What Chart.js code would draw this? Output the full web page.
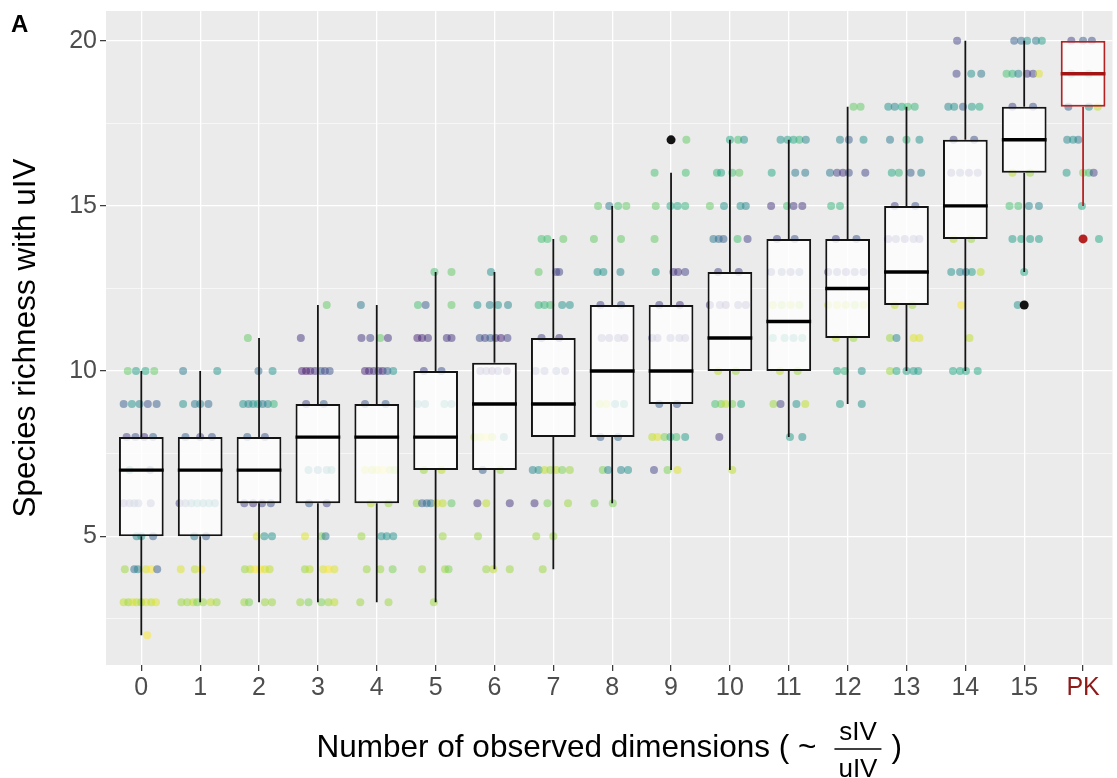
<!DOCTYPE html>
<html>
<head>
<meta charset="utf-8">
<script src="https://cdn.jsdelivr.net/npm/chart.js@4.4.1/dist/chart.umd.min.js"></script>
<style>
  html, body { margin: 0; padding: 0; background: #fff; }
  #wrap { width: 1117px; height: 778px; }
</style>
</head>
<body>
<div id="wrap"><canvas id="c" width="1117" height="778"></canvas></div>
<script>
// ---------------- DATA ----------------
const categories   = ['0','1','2','3','4','5','6','7','8','9','10','11','12','13','14','15','PK'];
const whiskerLow   = [2, 3, 3, 3, 3, 3, 4, 4, 6, 7, 7, 8, 9, 10, 10, 13, 15];
const boxQ1        = [5, 5, 6, 6, 6, 7, 7, 8, 8, 9, 10, 10, 11, 12, 14, 16, 18];
const boxMedian    = [7, 7, 7, 8, 8, 8, 9, 9, 10, 10, 11, 11.5, 12.5, 13, 15, 17, 19];
const boxQ3        = [8, 8, 8, 9, 9, 10, 10.25, 11, 12, 12, 13, 14, 14, 15, 17, 18, 20];
const whiskerHigh  = [10, 10, 11, 12, 12, 13, 13, 14, 15, 16, 17, 17, 18, 18, 20, 20, 20];
const outlierCat   = [9, 15, 16];
const outlierValue = [17, 12, 14];

const yTickValues = [2.5, 5, 7.5, 10, 12.5, 15, 17.5, 20];
const yTickLabels = ['', '5', '', '10', '', '15', '', '20'];

// jittered observations per category: [richness, horizontal jitter (category units), colour value 0..1 (viridis)]
const pts_0 = [[10,-0.23,0.75],[10,-0.09,0.55],[10,0.07,0.6],[10,0.22,0.75],
 [9,-0.30,0.3],[9,-0.16,0.5],[9,-0.03,0.45],[9,0.11,0.25],[9,0.26,0.3],
 [8,-0.25,0.2],[8,-0.1,0.25],[8,0.05,0.15],[8,0.2,0.3],[7,-0.2,0.5],[7,0.15,0.3],
 [6,-0.3,0.15],[6,-0.2,0.2],[6,-0.12,0.3],[6,-0.05,0.25],[6,0.16,0.2],
 [5,-0.08,0.45],[5,0.0,0.5],[5,0.2,0.3],
 [4,-0.28,0.85],[4,-0.12,0.35],[4,-0.06,0.45],[4,0.08,0.95],[4,0.17,1.0],[4,0.27,0.3],
 [3,-0.3,0.9],[3,-0.22,0.85],[3,-0.15,0.95],[3,-0.08,0.9],[3,0,0.85],[3,0.08,0.95],[3,0.17,0.9],[3,0.25,0.95],
 [2,0.1,1.0]];
const pts_1 = [[10,-0.29,0.4],[10,0.29,0.5],
 [9,-0.29,0.5],[9,-0.09,0.4],[9,0,0.45],[9,0.14,0.35],
 [8,-0.25,0.3],[8,0,0.2],[8,0.2,0.25],
 [6,-0.35,0.2],[6,-0.25,0.3],[6,-0.15,0.4],[6,-0.05,0.5],[6,0.05,0.45],[6,0.15,0.5],[6,0.25,0.4],
 [5,-0.1,0.4],[5,0.1,0.3],
 [4,-0.33,0.95],[4,-0.09,0.9],[4,0.02,1.0],
 [3,-0.32,0.85],[3,-0.22,0.85],[3,-0.12,0.9],[3,-0.05,0.8],[3,0.05,0.85],[3,0.18,0.9],[3,0.28,0.85]];
const pts_2 = [[11,-0.19,0.75],
 [10,-0.01,0.35],[10,0.23,0.5],
 [9,-0.27,0.5],[9,-0.18,0.45],[9,-0.1,0.5],[9,-0.02,0.55],[9,0.06,0.4],[9,0.15,0.45],[9,0.25,0.65],
 [8,-0.2,0.3],[8,0.1,0.25],
 [6,-0.25,0.2],[6,-0.1,0.15],[6,0.05,0.2],[6,0.2,0.25],
 [5,-0.04,0.95],[5,0.09,0.5],[5,0.22,0.5],
 [4,-0.24,0.85],[4,-0.15,0.9],[4,-0.06,1.0],[4,0.02,1.0],[4,0.1,0.95],[4,0.18,0.9],
 [3,-0.25,0.85],[3,-0.17,0.8],[3,0.1,0.85],[3,0.22,0.85]];
const pts_3 = [[12,0.15,0.75],[11,-0.29,0.15],
 [10,-0.27,0.1],[10,-0.2,0.05],[10,-0.13,0.1],[10,-0.05,0.15],[10,0.05,0.3],[10,0.12,0.2],[10,0.2,0.25],
 [9,-0.2,0.2],[9,0.1,0.3],
 [7,-0.16,0.5],[7,0,0.4],[7,0.15,0.45],[7,0.23,0.5],
 [6,-0.15,0.3],[6,0.15,0.2],
 [5,-0.22,0.95],[5,0.06,0.8],[5,0.13,0.4],
 [4,-0.22,0.85],[4,-0.14,0.9],[4,0.09,0.95],[4,0.18,1.0],[4,0.28,0.95],
 [3,-0.3,0.85],[3,-0.16,0.8],[3,0.06,0.8],[3,0.18,0.85],[3,0.28,0.9]];
const pts_4 = [[12,-0.27,0.4],
 [11,-0.26,0.15],[11,-0.11,0.2],[11,0.06,0.75],[11,0.19,0.15],
 [10,-0.2,0.1],[10,-0.13,0.1],[10,-0.05,0.15],[10,0.03,0.2],[10,0.1,0.1],[10,0.18,0.3],[10,0.28,0.5],
 [9,-0.2,0.25],[9,0.15,0.3],
 [7,-0.2,0.95],[7,-0.08,0.9],[7,0,0.95],[7,0.1,1.0],[7,0.22,0.9],[7,0.3,0.85],
 [6,-0.1,0.9],[6,0.2,0.85],
 [5,-0.26,0.85],[5,0.08,0.5],[5,0.17,0.5],[5,0.28,0.5],
 [4,-0.17,0.85],[4,0.06,0.85],[4,0.27,0.8],
 [3,-0.28,0.85],[3,0.2,0.85]];
const pts_5 = [[13,-0.02,0.7],[13,0.27,0.75],
 [12,-0.3,0.7],[12,-0.17,0.3],[12,0.27,0.75],
 [11,-0.31,0.1],[11,-0.23,0.1],[11,-0.13,0.15],[11,0.19,0.15],[11,0.27,0.15],
 [10,-0.2,0.2],[10,0.1,0.25],
 [9,-0.3,0.5],[9,-0.18,0.45],[9,0.15,0.55],[9,0.27,0.5],
 [7,-0.2,0.85],[7,0.1,0.9],
 [6,-0.32,0.85],[6,-0.23,0.3],[6,-0.15,0.35],[6,-0.08,0.4],[6,0.02,0.95],[6,0.12,0.9],[6,0.27,0.75],
 [5,0.12,0.85],
 [4,-0.23,0.85],[4,0.16,0.85],[4,0.22,0.8],
 [3,-0.03,0.85]];
const pts_6 = [[13,-0.06,0.5],
 [12,-0.29,0.5],[12,-0.08,0.45],[12,0.06,0.5],[12,0.23,0.45],
 [11,-0.25,0.25],[11,-0.16,0.2],[11,-0.07,0.3],[11,0.02,0.15],[11,0.11,0.1],[11,0.22,0.2],
 [10,-0.24,0.15],[10,-0.14,0.2],[10,-0.04,0.1],[10,0.06,0.2],[10,0.21,0.1],
 [8,-0.34,0.9],[8,-0.24,0.95],[8,-0.14,1.0],[8,-0.04,0.9],[8,0.16,0.5],
 [7,-0.2,0.3],[7,0.1,0.85],
 [6,-0.29,0.15],[6,-0.14,0.9],[6,0.26,0.15],
 [5,-0.28,0.85],
 [4,-0.14,0.85],[4,-0.02,0.9],[4,0.26,0.85]];
const pts_7 = [[14,-0.2,0.7],[14,-0.1,0.7],[14,0.17,0.75],
 [13,-0.25,0.75],[13,0.05,0.2],[13,0.1,0.2],
 [12,-0.25,0.65],[12,-0.15,0.65],[12,-0.05,0.7],[12,0.15,0.5],[12,0.28,0.5],
 [11,-0.2,0.2],[11,0.1,0.15],
 [10,-0.3,0.2],[10,-0.15,0.2],[10,0.05,0.25],[10,0.2,0.15],
 [7,-0.35,0.45],[7,-0.25,0.5],[7,-0.15,0.9],[7,-0.05,0.85],[7,0.05,0.9],[7,0.15,0.8],[7,0.28,0.85],
 [6,-0.32,0.15],[6,-0.1,0.8],[6,0.25,0.85],
 [5,-0.29,0.85],[5,0,0.85],
 [4,-0.18,0.85]];
const pts_8 = [[15,-0.24,0.75],[15,-0.05,0.4],[15,0.1,0.7],[15,0.24,0.75],
 [14,-0.31,0.75],[14,0.15,0.75],
 [13,-0.25,0.5],[13,-0.15,0.5],[13,0.14,0.45],
 [12,-0.2,0.2],[12,0.15,0.25],
 [11,-0.18,0.2],[11,-0.05,0.15],[11,0.1,0.2],[11,0.21,0.1],
 [9,-0.21,0.9],[9,-0.1,0.95],[9,0.05,0.5],[9,0.2,0.55],
 [8,-0.2,0.3],[8,0.1,0.35],
 [7,-0.16,0.8],[7,-0.07,0.45],[7,0.15,0.45],[7,0.27,0.5],
 [6,-0.3,0.8],[6,0.01,0.8]];
const pts_9 = [[17,0.26,0.75],
 [16,-0.28,0.7],[16,0.25,0.7],
 [15,-0.26,0.75],[15,-0.01,0.6],[15,0.11,0.6],[15,0.24,0.65],
 [14,-0.28,0.75],
 [13,-0.26,0.55],[13,0.04,0.15],[13,0.12,0.15],[13,0.24,0.2],
 [12,-0.2,0.2],[12,0.15,0.15],
 [11,-0.32,0.2],[11,-0.23,0.15],[11,-0.01,0.2],[11,0.14,0.2],[11,0.24,0.15],
 [9,-0.2,0.3],[9,0.1,0.25],
 [8,-0.32,0.9],[8,-0.23,0.95],[8,-0.11,0.8],[8,-0.01,0.6],[8,0.09,0.7],[8,0.24,0.55],
 [7,-0.29,0.2],[7,-0.06,0.8],[7,0.11,0.95]];
const pts_10 = [[17,0.0,0.6],[17,0.14,0.7],[17,0.24,0.5],
 [16,-0.22,0.65],[16,-0.15,0.6],[16,0.04,0.7],[16,0.16,0.75],
 [15,-0.34,0.75],[15,-0.1,0.5],[15,0.18,0.5],[15,0.27,0.45],
 [14,-0.28,0.4],[14,-0.19,0.35],[14,-0.11,0.3],[14,0.13,0.7],[14,0.3,0.2],
 [13,-0.2,0.2],[13,0.15,0.2],
 [12,-0.34,0.15],[12,-0.17,0.2],[12,-0.07,0.1],[12,0.14,0.2],[12,0.27,0.15],
 [10,-0.2,0.9],[10,0.1,0.85],
 [9,-0.25,0.7],[9,-0.15,0.8],[9,-0.07,0.9],[9,0.04,0.8],[9,0.19,0.6],
 [8,-0.18,0.15],
 [7,0.04,0.9]];
const pts_11 = [[17,-0.14,0.5],[17,-0.02,0.55],[17,0.08,0.6],[17,0.18,0.65],[17,0.29,0.45],
 [16,-0.29,0.6],[16,0.11,0.4],[16,0.28,0.4],
 [15,-0.3,0.15],[15,-0.03,0.7],[15,0.08,0.15],[15,0.23,0.15],
 [14,-0.2,0.2],[14,0.1,0.25],
 [13,-0.3,0.2],[13,-0.12,0.3],[13,0.03,0.2],[13,0.18,0.25],
 [12,-0.27,0.9],[12,-0.12,0.85],[12,0.03,0.9],[12,0.18,0.85],
 [11,-0.27,0.6],[11,-0.07,0.55],[11,0.08,0.5],[11,0.23,0.6],
 [10,-0.15,0.9],[10,0.15,0.85],
 [9,-0.26,0.85],[9,-0.14,0.2],[9,0.13,0.5],[9,0.28,0.9],
 [8,0.02,0.55],[8,0.23,0.5]];
const pts_12 = [[18,0.1,0.75],[18,0.22,0.75],
 [17,-0.13,0.45],[17,0.02,0.3],[17,0.27,0.5],
 [16,-0.3,0.4],[16,-0.18,0.2],[16,-0.08,0.15],[16,0.02,0.25],[16,0.3,0.2],
 [15,-0.28,0.65],[15,-0.13,0.65],
 [14,-0.2,0.2],[14,0.15,0.25],
 [13,-0.33,0.15],[13,-0.18,0.2],[13,-0.03,0.15],[13,0.12,0.2],[13,0.27,0.15],
 [12,-0.33,0.9],[12,-0.18,0.95],[12,-0.03,0.9],[12,0.12,0.85],[12,0.27,0.9],
 [11,-0.2,0.9],[11,0.1,0.85],
 [10,-0.18,0.6],[10,-0.05,0.65],[10,0.24,0.5],
 [9,-0.13,0.55],[9,0.24,0.5]];
const pts_13 = [[18,-0.31,0.5],[18,-0.2,0.45],[18,-0.08,0.6],[18,0.02,0.7],[18,0.14,0.65],
 [17,-0.28,0.4],[17,0.0,0.65],[17,0.22,0.5],
 [16,-0.25,0.6],[16,-0.13,0.65],[16,0.07,0.3],[16,0.25,0.45],
 [15,-0.2,0.2],[15,0.15,0.25],
 [14,-0.31,0.15],[14,-0.18,0.2],[14,-0.03,0.15],[14,0.12,0.2],[14,0.22,0.15],
 [12,-0.2,0.9],[12,0.1,0.85],
 [11,-0.28,0.85],[11,-0.17,0.45],[11,0.12,0.95],[11,0.22,0.95],
 [10,-0.28,0.85],[10,-0.17,0.6],[10,0.0,0.55],[10,0.12,0.55],[10,0.2,0.55]];
const pts_14 = [[20,-0.14,0.2],
 [19,-0.15,0.2],[19,0.1,0.5],[19,0.27,0.4],
 [18,-0.29,0.45],[18,-0.19,0.5],[18,-0.04,0.3],[18,0.11,0.55],[18,0.24,0.6],
 [17,-0.2,0.2],[17,0.15,0.25],
 [16,-0.24,0.15],[16,-0.09,0.2],[16,0.06,0.15],[16,0.21,0.2],
 [14,-0.2,0.9],[14,0.1,0.85],
 [13,-0.24,0.5],[13,-0.09,0.45],[13,0.01,0.4],[13,0.11,0.55],[13,0.26,0.9],
 [12,-0.07,1.0],
 [11,0.07,0.9],
 [10,-0.21,0.6],[10,-0.09,0.6],[10,0.01,0.6],[10,0.21,0.6]];
const pts_15 = [[20,-0.17,0.3],[20,-0.05,0.35],[20,0.05,0.5],[20,0.2,0.4],[20,0.3,0.55],
 [19,-0.3,0.7],[19,-0.2,0.65],[19,-0.1,0.45],[19,0.05,0.15],[19,0.15,0.2],[19,0.25,0.95],
 [18,-0.2,0.2],[18,0.15,0.25],
 [16,-0.2,0.9],[16,0.1,0.85],
 [15,-0.25,0.7],[15,-0.1,0.7],[15,0.08,0.45],[15,0.25,0.45],
 [14,-0.2,0.55],[14,-0.05,0.6],[14,0.1,0.55],[14,0.25,0.55],
 [13,0.0,0.6],
 [12,-0.11,0.5]];
const pts_PK = [[20,-0.2,0.2],[20,0.0,0.3],[20,0.15,0.25],
 [19,-0.2,0.5],[19,0.1,0.6],
 [18,-0.25,0.3],[18,0.1,0.5],[18,0.25,0.9],
 [17,-0.27,0.45],[17,-0.17,0.5],[17,-0.08,0.4],
 [16,-0.28,0.55],[16,0.0,0.8],[16,0.1,0.7],[16,0.18,0.2],
 [15,-0.02,0.6],
 [14,0.27,0.6]];
const jitterByCategory = [pts_0, pts_1, pts_2, pts_3, pts_4, pts_5, pts_6, pts_7, pts_8,
  pts_9, pts_10, pts_11, pts_12, pts_13, pts_14, pts_15, pts_PK];

// ---------------- STYLE ----------------
const BOX_WIDTH = 0.76;
const PK_RED = '#B42222';
const PK_LABEL = '#8E1A1A';
const FONT = '"Liberation Sans", Arial, Helvetica, sans-serif';
const VIRIDIS = ['#440154','#482475','#414487','#355F8D','#2A788E','#21918C','#22A884','#44BF70','#7AD151','#BDDF26','#FDE725'];

function viridis(t, a) {
  const p = Math.max(0, Math.min(1, t)) * (VIRIDIS.length - 1);
  const i = Math.min(Math.floor(p), VIRIDIS.length - 2), f = p - i;
  const h = s => [parseInt(s.slice(1,3),16), parseInt(s.slice(3,5),16), parseInt(s.slice(5,7),16)];
  const c0 = h(VIRIDIS[i]), c1 = h(VIRIDIS[i+1]);
  const c = c0.map((v, k) => Math.round(v + (c1[k] - v) * f));
  return `rgba(${c[0]},${c[1]},${c[2]},${a})`;
}

// ---------------- BUILD DATASETS ----------------
const jitterData = [], jitterColors = [];
jitterByCategory.forEach((arr, ci) => {
  arr.forEach(([y, dx, c]) => { jitterData.push({x: ci + dx, y: y}); jitterColors.push(viridis(c, 0.5)); });
});

const boxData = categories.map((c, i) => ({x: i, y: [boxQ1[i], boxQ3[i]]}));
const boxBorders = categories.map(c => c === 'PK' ? PK_RED : '#141414');

const whiskerData = [];
categories.forEach((c, i) => {
  whiskerData.push({x: i, y: whiskerLow[i]}, {x: i, y: boxQ1[i]}, {x: i, y: null});
  whiskerData.push({x: i, y: boxQ3[i]}, {x: i, y: whiskerHigh[i]}, {x: i, y: null});
});
const medianData = [];
categories.forEach((c, i) => {
  medianData.push({x: i - BOX_WIDTH / 2, y: boxMedian[i]}, {x: i + BOX_WIDTH / 2, y: boxMedian[i]}, {x: i, y: null});
});
const outlierData = outlierCat.map((c, k) => ({x: c, y: outlierValue[k]}));
const outlierColors = outlierCat.map(c => categories[c] === 'PK' ? PK_RED : '#141414');

const isPK = x => Math.round(x) === categories.indexOf('PK');

// ---------------- PLUGINS ----------------
const panelBackground = {
  id: 'panelBackground',
  beforeDraw(chart) {
    const {ctx, chartArea: a} = chart;
    ctx.save();
    ctx.fillStyle = '#EBEBEB';
    ctx.fillRect(a.left, a.top, a.right - a.left, a.bottom - a.top);
    ctx.restore();
  }
};

const annotations = {
  id: 'annotations',
  afterDraw(chart) {
    const {ctx, chartArea: a} = chart;
    ctx.save();
    ctx.fillStyle = '#000';
    ctx.textBaseline = 'alphabetic';
    ctx.textAlign = 'left';
    ctx.font = 'bold 24px ' + FONT;
    ctx.fillText('A', 11, 32);

    // x axis title with fraction sIV / uIV
    const mainFont = '31.5px ' + FONT, fracFont = '26px ' + FONT;
    const mainText = 'Number of observed dimensions ( ~';
    ctx.font = mainFont;
    const wMain = ctx.measureText(mainText).width;
    const wClose = ctx.measureText(')').width;
    ctx.font = fracFont;
    const wNum = ctx.measureText('sIV').width, wDen = ctx.measureText('uIV').width;
    const fracW = Math.max(wNum, wDen) + 8;
    const gap1 = 18, gap2 = 10;
    const total = wMain + gap1 + fracW + gap2 + wClose;
    const cx = (a.left + a.right) / 2;
    const x0 = cx - total / 2;
    const base = a.bottom + 92;      // main text baseline
    const barY = base - 8;           // fraction bar (math axis)
    ctx.font = mainFont;
    ctx.fillText(mainText, x0, base);
    const fx = x0 + wMain + gap1;
    ctx.fillText(')', fx + fracW + gap2, base);
    ctx.strokeStyle = '#000';
    ctx.lineWidth = 1.5;
    ctx.beginPath();
    ctx.moveTo(fx, barY);
    ctx.lineTo(fx + fracW, barY);
    ctx.stroke();
    ctx.font = fracFont;
    ctx.textAlign = 'center';
    ctx.fillText('sIV', fx + fracW / 2, barY - 9);
    ctx.fillText('uIV', fx + fracW / 2, barY + 28);
    ctx.restore();
  }
};

// ---------------- CHART ----------------
new Chart(document.getElementById('c'), {
  type: 'bar',
  data: {
    datasets: [
      {
        type: 'scatter', label: 'observations', data: jitterData,
        backgroundColor: jitterColors, pointBackgroundColor: jitterColors,
        pointRadius: 4, pointBorderWidth: 0, borderWidth: 0, order: 5
      },
      {
        type: 'bar', label: 'IQR', data: boxData,
        backgroundColor: 'rgba(255,255,255,0.78)', borderColor: boxBorders,
        borderWidth: 2, borderSkipped: false, grouped: false,
        barPercentage: BOX_WIDTH, categoryPercentage: 1, order: 4
      },
      {
        type: 'line', label: 'whiskers', data: whiskerData,
        borderColor: '#141414', borderWidth: 1.8, pointRadius: 0, spanGaps: false,
        segment: { borderColor: c => isPK(c.p0.parsed.x) ? PK_RED : '#141414' },
        order: 3
      },
      {
        type: 'line', label: 'median', data: medianData,
        borderColor: '#000', borderWidth: 3.4, pointRadius: 0, spanGaps: false,
        segment: { borderColor: c => isPK(c.p0.parsed.x) ? '#A31515' : '#000' },
        order: 2
      },
      {
        type: 'scatter', label: 'outliers', data: outlierData,
        backgroundColor: outlierColors, pointBackgroundColor: outlierColors,
        pointRadius: 4.5, pointBorderWidth: 0, order: 1
      }
    ]
  },
  options: {
    responsive: false,
    devicePixelRatio: 1,
    animation: false,
    layout: { padding: { top: 11, left: 0, right: 0, bottom: 0 } },
    plugins: { legend: { display: false }, tooltip: { enabled: false }, title: { display: false } },
    scales: {
      x: {
        type: 'linear', min: -0.6, max: 16.5, offset: false,
        afterBuildTicks: s => { s.ticks = categories.map((c, i) => ({value: i})); },
        afterFit: s => { s.height = 113; s.paddingLeft = 0; s.paddingRight = 0; },
        ticks: {
          autoSkip: false, maxRotation: 0, padding: 2,
          callback: v => categories[v],
          color: c => (c.tick && categories[c.tick.value] === 'PK') ? PK_LABEL : '#4D4D4D',
          font: { family: FONT, size: 25 }
        },
        grid: { offset: false, color: '#FFFFFF', lineWidth: 1.3, drawTicks: true, tickLength: 6, tickColor: '#333333', tickWidth: 1.2 },
        border: { display: false }
      },
      y: {
        type: 'linear', min: 1.1, max: 20.9,
        afterBuildTicks: s => { s.ticks = yTickValues.map(v => ({value: v})); },
        afterFit: s => { s.width = 106; s.paddingTop = 0; s.paddingBottom = 0; },
        ticks: {
          padding: 3,
          callback: (v) => yTickLabels[yTickValues.indexOf(v)],
          color: '#4D4D4D',
          font: { family: FONT, size: 25 }
        },
        grid: {
          offset: false,
          color: '#FFFFFF',
          lineWidth: c => (c.tick && yTickLabels[yTickValues.indexOf(c.tick.value)] !== '') ? 1.3 : 0.6,
          drawTicks: true, tickLength: 6, tickWidth: 1.2,
          tickColor: c => (c.tick && yTickLabels[yTickValues.indexOf(c.tick.value)] !== '') ? '#333333' : 'rgba(0,0,0,0)'
        },
        border: { display: false },
        title: {
          display: true, text: 'Species richness with uIV', color: '#000',
          font: { family: FONT, size: 31.5 }, padding: { top: 7, bottom: 0 }
        }
      }
    }
  },
  plugins: [panelBackground, annotations]
});
</script>
</body>
</html>
